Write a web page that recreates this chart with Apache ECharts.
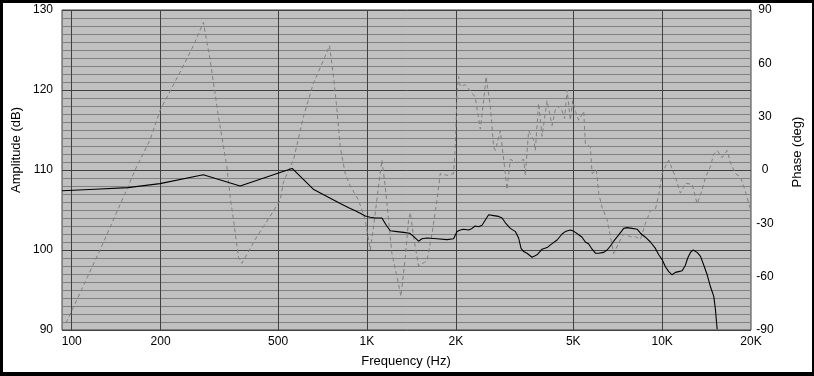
<!DOCTYPE html>
<html><head><meta charset="utf-8">
<script src="https://cdn.jsdelivr.net/npm/echarts@6/dist/echarts.min.js"></script>
<style>
html,body{margin:0;padding:0;background:#fff;}
#chart{position:absolute;left:0;top:0;width:814px;height:376px;}
#frame{position:absolute;left:0;top:0;width:814px;height:376px;box-sizing:border-box;border-style:solid;border-color:#000;border-width:3px 2px 4px 3px;pointer-events:none;}
</style></head><body>
<div id="chart"></div><div id="frame"></div>
<script>
// Amplitude (dB) vs frequency (Hz)
const ampFreq = [92.7,120,155,199,279,372,508,558,658,812,878,913,949,987,1026,1067,1124,1163,1200,1264,1331,1395,1439,1496,1536,1597,1727,1867,1966,2019,2072,2126,2211,2270,2328,2390,2454,2518,2584,2618,2687,2793,2869,2944,3061,3183,3265,3327,3395,3486,3625,3770,3919,4075,4238,4407,4581,4698,4764,4889,4977,5083,5216,5356,5495,5640,5790,5942,6096,6339,6510,6680,6854,7127,7411,7611,7913,8228,8444,8778,9127,9490,9739,10000,10260,10530,10810,11090,11380,11690,11990,12210,12470,12740,13140,13490,13840,14210,14580,14960,15160,15360];
const ampDb = [107.4,107.6,107.8,108.3,109.4,108.0,109.7,110.2,107.6,105.8,105.2,104.9,104.6,104.25,104.1,104.0,104.0,103.1,102.4,102.3,102.2,102.1,101.7,101.1,101.4,101.5,101.4,101.3,101.4,102.3,102.5,102.6,102.5,102.7,103.0,102.9,103.1,103.75,104.4,104.5,104.3,104.2,104.0,103.4,102.7,102.3,101.5,100.2,99.8,99.6,99.1,99.4,100.1,100.3,100.8,101.25,102.0,102.3,102.4,102.5,102.4,102.2,101.9,101.6,101.0,100.75,100.1,99.6,99.6,99.7,100.0,100.5,101.1,101.9,102.7,102.8,102.7,102.6,102.1,101.6,101.0,100.2,99.4,98.8,97.9,97.3,96.9,97.2,97.3,97.4,98.1,99.0,99.7,100.0,99.7,99.2,98.1,96.9,95.4,94.2,92.5,90.1];

// Phase (deg) vs frequency (Hz)
const phaseFreq = [95.7,124.7,153.6,163.9,184.3,199.7,232.8,258.4,279.3,294.3,314.1,335.3,344.1,353.1,367.1,377,423.8,470.1,508.3,521.6,563.9,609.7,659.2,722.3,746.9,770.6,791.3,812,844.2,877.9,936.6,986.8,1026,1053,1095,1124,1153,1184,1215,1264,1304,1349,1384,1403,1439,1496,1597,1661,1727,1772,1867,1966,1992,2019,2044,2072,2154,2328,2422,2485,2532,2618,2687,2722,2831,2905,2944,2983,3061,3225,3395,3440,3530,3670,3719,3816,3919,4075,4238,4349,4522,4581,4675,4764,4889,4977,5083,5216,5424,5495,5714,5790,5987,6096,6259,6510,6680,6854,7127,7411,7808,8120,8444,8778,9127,9490,9739,10000,10260,10530,11090,11530,11990,12640,13140,13670,14030,14580,14960,15360,15970,16610,17040,17720,18430,19050,19660,20000];
const phaseDeg = [-86,-45,-11,0,17,34,55,70,83,62,30,2,-15,-28,-49,-52.5,-37.5,-26,-17,-6.6,5.6,30,49,64,70,52.5,34,13,-2,-9,-17,-28,-45,-32,-9,5.6,-9,-28,-47,-60,-71,-49,-28,-24,-37.5,-54,-51,-36,-17,-2,-3,-2,13,43,52.5,47,48,41,23,39,52.5,36,13,11,22,6,-2,-11,6,4,6,-3,22,17,11,37.5,19,39,25,34,36,36,29,45,28,39,33,28,33,15,13,-2,0,-13,-21,-28,-37.5,-47,-41,-36,-37.5,-37.5,-39,-30,-23,-22,-14,-2,2,5.6,-4,-13,-7.5,-8,-19,-11,-4,2,9,11,7,11,4,-2,-4,-11,-19,-23];

const xTicks = [100,200,500,1000,2000,5000,10000,20000];
const xMin = 92.7, xMax = 20000;
const ampMin = 90, ampMax = 130, ampStep = 10;
const phMin = -90, phMax = 90, phStep = 30;

const FONT = '"Liberation Sans", Arial, sans-serif';
const chart = echarts.init(document.getElementById('chart'), null, {renderer:'canvas'});

const fmtHz = v => v >= 1000 ? (v/1000) + 'K' : String(v);

chart.setOption({
  animation: false,
  backgroundColor: '#fff',
  grid: {left: 62, top: 10, width: 689, height: 320, show: true,
         backgroundColor: '#C0C0C0', borderColor: '#404040', borderWidth: 1},
  xAxis: {
    type: 'log', logBase: 10, min: xMin, max: xMax,
    axisLine: {show: false}, axisTick: {show: false},
    splitLine: {show: false}, minorSplitLine: {show: false},
    axisLabel: {customValues: xTicks, formatter: fmtHz, color: '#000',
                fontSize: 12, fontFamily: FONT, margin: 6}
  },
  yAxis: [{
    type: 'value', position: 'left', min: ampMin, max: ampMax, interval: ampStep,
    axisLine: {show: false}, axisTick: {show: false},
    splitLine: {show: true, lineStyle: {color: '#404040', width: 1}},
    minorTick: {show: false, splitNumber: 10},
    minorSplitLine: {show: true, lineStyle: {color: '#808080', width: 1}},
    axisLabel: {color: '#000', fontSize: 12, fontFamily: FONT, margin: 9}
  }, {
    type: 'value', position: 'right', min: phMin, max: phMax, interval: phStep,
    axisLine: {show: false}, axisTick: {show: false}, splitLine: {show: false},
    axisLabel: {color: '#000', fontSize: 12, fontFamily: FONT, margin: 14, align: 'center'}
  }],
  series: [{
    name: 'Phase', type: 'line', xAxisIndex: 0, yAxisIndex: 1,
    data: phaseFreq.map((f, i) => [f, phaseDeg[i]]),
    showSymbol: false, symbol: 'none', z: 2,
    lineStyle: {color: '#808080', width: 1, type: [4, 3]},
    markLine: {
      silent: true, symbol: 'none', label: {show: false}, z: 1,
      lineStyle: {color: '#404040', width: 1, type: 'solid'},
      data: xTicks.filter(v => v < xMax).map(v => ({xAxis: v}))
    }
  }, {
    name: 'Amplitude', type: 'line', xAxisIndex: 0, yAxisIndex: 0,
    data: ampFreq.map((f, i) => [f, ampDb[i]]),
    showSymbol: false, symbol: 'none', z: 3,
    lineStyle: {color: '#000', width: 1.1}
  }],
  graphic: [
    {type: 'text', x: 16, y: 150, rotation: Math.PI/2,
     style: {text: 'Amplitude (dB)', align: 'center', verticalAlign: 'middle', font: '13px ' + FONT, fill: '#000'}},
    {type: 'text', x: 797, y: 152, rotation: Math.PI/2,
     style: {text: 'Phase (deg)', align: 'center', verticalAlign: 'middle', font: '13px ' + FONT, fill: '#000'}},
    {type: 'text', x: 406, y: 361,
     style: {text: 'Frequency (Hz)', align: 'center', verticalAlign: 'middle', font: '13px ' + FONT, fill: '#000'}}
  ]
});
</script>
</body></html>
